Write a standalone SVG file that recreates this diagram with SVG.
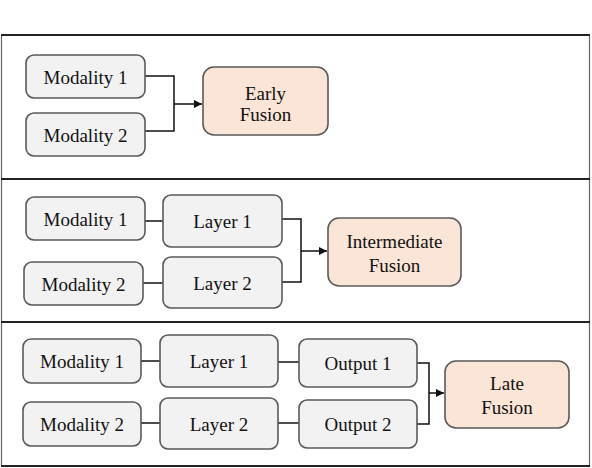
<svg xmlns="http://www.w3.org/2000/svg" width="592" height="468" viewBox="0 0 592 468" font-family="'Liberation Serif', 'DejaVu Serif', serif">
<defs>
<style>
.box{fill:#f2f2f2;stroke:#5a5a5a;stroke-width:1.6}
.fus{fill:#fbe5d6;stroke:#5a5a5a;stroke-width:1.6}
.t{font-family:'Liberation Serif','DejaVu Serif',serif;font-size:19px;fill:#111;text-anchor:middle}
.c{fill:none;stroke:#111;stroke-width:1.5}
.frame{stroke:#222;stroke-width:1.8}
.side{stroke:#666;stroke-width:1.2}
</style>
<marker id="ah" viewBox="0 0 10 10" refX="10" refY="5" markerWidth="8" markerHeight="8" markerUnits="userSpaceOnUse" orient="auto">
<path d="M0,0 L10,5 L0,10 z" fill="#111"/>
</marker>
</defs>
<rect width="592" height="468" fill="#fff"/>
<g id="frame">
<line class="side" x1="1.5" y1="35" x2="1.5" y2="466"/>
<line class="side" x1="589.5" y1="35" x2="589.5" y2="466"/>
<line class="frame" x1="1" y1="35" x2="590" y2="35"/>
<line class="frame" x1="1" y1="179" x2="590" y2="179"/>
<line class="frame" x1="1" y1="322" x2="590" y2="322"/>
<line class="frame" x1="1" y1="466" x2="590" y2="466"/>
</g>
<g id="connectors">
<polyline class="c" points="145,76 174,76 174,131 145,131"/>
<line class="c" x1="174" y1="104" x2="202" y2="104" marker-end="url(#ah)"/>
<line class="c" x1="145" y1="221" x2="163" y2="221"/>
<line class="c" x1="143" y1="283" x2="163" y2="283"/>
<polyline class="c" points="282,219 301,219 301,282 282,282"/>
<line class="c" x1="301" y1="251" x2="327" y2="251" marker-end="url(#ah)"/>
<line class="c" x1="141" y1="361" x2="160" y2="361"/>
<line class="c" x1="278" y1="362" x2="299" y2="362"/>
<line class="c" x1="141" y1="423" x2="160" y2="423"/>
<line class="c" x1="278" y1="423" x2="299" y2="423"/>
<polyline class="c" points="417,363 429,363 429,424 417,424"/>
<line class="c" x1="429" y1="393" x2="444" y2="393" marker-end="url(#ah)"/>
</g>
<g id="early-mod1"><rect class="box" x="26" y="55" width="119" height="43" rx="8"/><text class="t" x="85.5" y="83.5">Modality 1</text></g>
<g id="early-mod2"><rect class="box" x="26" y="113" width="119" height="43" rx="8"/><text class="t" x="85.5" y="141.5">Modality 2</text></g>
<g id="early-fusion"><rect class="fus" x="203" y="67" width="125" height="68" rx="11"/><text class="t" x="265.5" y="100">Early</text><text class="t" x="265.5" y="121">Fusion</text></g>
<g id="inter-mod1"><rect class="box" x="26" y="197" width="119" height="43" rx="8"/><text class="t" x="85.5" y="225.5">Modality 1</text></g>
<g id="inter-mod2"><rect class="box" x="24" y="262" width="119" height="43" rx="8"/><text class="t" x="83.5" y="290.5">Modality 2</text></g>
<g id="inter-layer1"><rect class="box" x="163" y="195" width="119" height="52" rx="8"/><text class="t" x="222.5" y="228">Layer 1</text></g>
<g id="inter-layer2"><rect class="box" x="163" y="257" width="119" height="51" rx="8"/><text class="t" x="222.5" y="289.5">Layer 2</text></g>
<g id="inter-fusion"><rect class="fus" x="328" y="218" width="133" height="68" rx="11"/><text class="t" x="394.5" y="247.5">Intermediate</text><text class="t" x="394.5" y="272">Fusion</text></g>
<g id="late-mod1"><rect class="box" x="23" y="339" width="118" height="44" rx="8"/><text class="t" x="82" y="368">Modality 1</text></g>
<g id="late-mod2"><rect class="box" x="23" y="402" width="118" height="44" rx="8"/><text class="t" x="82" y="431">Modality 2</text></g>
<g id="late-layer1"><rect class="box" x="160" y="335" width="118" height="52" rx="8"/><text class="t" x="219" y="368">Layer 1</text></g>
<g id="late-layer2"><rect class="box" x="160" y="398" width="118" height="51" rx="8"/><text class="t" x="219" y="430.5">Layer 2</text></g>
<g id="late-out1"><rect class="box" x="299" y="339" width="118" height="48" rx="8"/><text class="t" x="358" y="370">Output 1</text></g>
<g id="late-out2"><rect class="box" x="299" y="400" width="118" height="48" rx="8"/><text class="t" x="358" y="431">Output 2</text></g>
<g id="late-fusion"><rect class="fus" x="445" y="361" width="124" height="67" rx="11"/><text class="t" x="507" y="390">Late</text><text class="t" x="507" y="414">Fusion</text></g>
</svg>
